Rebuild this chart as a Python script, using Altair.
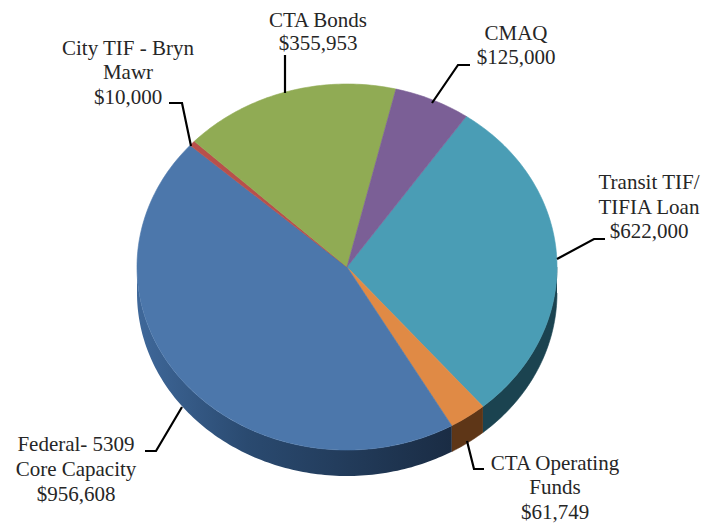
import math
import altair as alt
import pandas as pd

# Funding sources, clockwise from the Transit TIF slice
names = ["Transit TIF/TIFIA Loan", "CTA Operating Funds", "Federal- 5309 Core Capacity",
         "City TIF - Bryn Mawr", "CTA Bonds", "CMAQ"]
values = [622000, 61749, 956608, 10000, 355953, 125000]
top_colors = ["#4a9db5", "#e08a45", "#4c77ab", "#b8504b", "#90ab54", "#7b5f96"]
wall_colors = ["#1b4350", "#5e3617", "#1b2d45", "#5a2422", "#47562a", "#3c2f4b"]

label_lines = [
    ["City TIF - Bryn", "Mawr", "$10,000"],
    ["CTA Bonds", "$355,953"],
    ["CMAQ", "$125,000"],
    ["Transit TIF/", "TIFIA Loan", "$622,000"],
    ["CTA Operating", "Funds", "$61,749"],
    ["Federal- 5309", "Core Capacity", "$956,608"],
]
label_x = [128, 318, 516, 649, 555, 76]
label_y = [[49, 73, 98], [21, 44], [34, 58], [183, 208, 232], [464, 488, 513], [445, 470, 495]]
leaders = [
    [(169, 103), (182, 103), (191, 146)],
    [(285, 55), (285, 93)],
    [(470, 65), (458, 65), (432, 103)],
    [(557, 259), (594, 239), (605, 239)],
    [(467, 441), (474, 469), (484, 469)],
    [(182, 407), (156, 451), (145, 451)],
]

CX, CY, RX, RY, DEPTH = 347, 267, 210, 183, 26
START = 34.6
W, H = 693, 515
FONT = "Liberation Serif"
FS = 21

x_enc = alt.X("x:Q", scale=alt.Scale(domain=[8, 8 + W], range=[0, W]), axis=None)
y_enc = alt.Y("y:Q", scale=alt.Scale(domain=[8, 8 + H], range=[0, H]), axis=None)


def arc_points(a0, a1, dy=0):
    n = max(2, int(abs(a1 - a0)) + 1)
    out = []
    for i in range(n + 1):
        a = math.radians(a0 + (a1 - a0) * i / n)
        out.append((CX + RX * math.sin(a), CY - RY * math.cos(a) + dy))
    return out


def poly(points, fill, stroke):
    df = pd.DataFrame(points, columns=["x", "y"])
    df["i"] = range(len(df))
    return alt.Chart(df).mark_line(fill=fill, stroke=stroke, strokeWidth=0.6, interpolate="linear").encode(
        x=x_enc, y=y_enc, order="i:Q"
    )


total = sum(values)
layers = []
tops = []
a = START
for name, v, tc, wc in zip(names, values, top_colors, wall_colors):
    b = a + 360 * v / total
    lo, hi = max(a, 90), min(b, 270)
    if hi > lo:
        pts = arc_points(lo, hi) + arc_points(hi, lo, DEPTH)
        if name.startswith("Federal"):
            fill = alt.Gradient(
                gradient="linear", x1=0, x2=1, y1=0, y2=0,
                stops=[alt.GradientStop(offset=0, color="#3f689a"),
                       alt.GradientStop(offset=0.35, color="#2a4a70"),
                       alt.GradientStop(offset=1, color="#1a2c44")],
            )
            df = pd.DataFrame(pts, columns=["x", "y"])
            df["i"] = range(len(df))
            layers.append(alt.Chart(df).mark_line(fill=fill, strokeWidth=0).encode(x=x_enc, y=y_enc, order="i:Q"))
        else:
            layers.append(poly(pts, wc, wc))
    tops.append(poly([(CX, CY)] + arc_points(a, b) + [(CX, CY)], tc, tc))
    a = b
layers += tops

for k, pts in enumerate(leaders):
    df = pd.DataFrame(pts, columns=["x", "y"])
    df["i"] = range(len(df))
    layers.append(alt.Chart(df).mark_line(color="#000000", strokeWidth=2.2).encode(x=x_enc, y=y_enc, order="i:Q"))

rows = []
for lines, lx, ys in zip(label_lines, label_x, label_y):
    for t, ly in zip(lines, ys):
        rows.append({"x": lx, "y": ly, "t": t})
layers.append(
    alt.Chart(pd.DataFrame(rows)).mark_text(font=FONT, fontSize=FS, color="#262626", align="center", baseline="middle").encode(
        x=x_enc, y=y_enc, text="t:N"
    )
)

chart = (
    alt.layer(*layers)
    .properties(width=W, height=H, padding=0, autosize=alt.AutoSizeParams(type="none"), background="#ffffff")
    .configure_view(stroke=None)
)
chart.save("out.html", embed_options={"renderer": "svg", "actions": False})
